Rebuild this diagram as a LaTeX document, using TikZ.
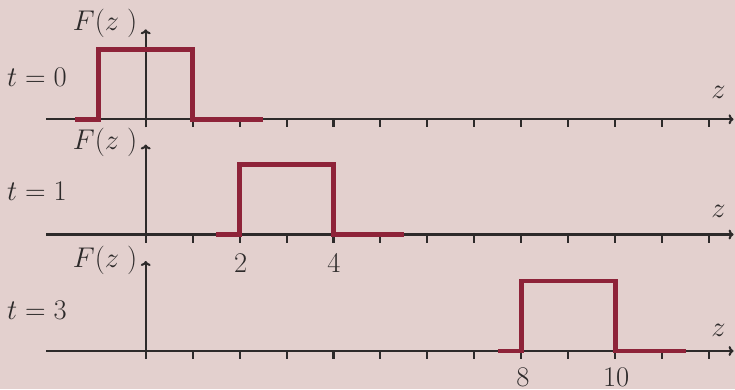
\documentclass[tikz,border=0pt]{standalone}
\usetikzlibrary{arrows.meta}
\definecolor{bgcol}{RGB}{227,208,206}
\definecolor{pulsecol}{RGB}{142,35,57}
\definecolor{axiscol}{RGB}{45,42,42}
\definecolor{txtcol}{RGB}{45,42,42}
\begin{document}
\begin{tikzpicture}[x=0.6063pt,y=-0.6063pt,
  font=\fontsize{16}{19}\selectfont,
  axisline/.style={draw=axiscol,line width=1.25pt},
  axisarrow/.style={axisline,-{To[length=3pt,width=6pt]}},
  pulseline/.style={draw=pulsecol,line width=2.85pt},
  lbl/.style={text=txtcol,inner sep=0pt}]
\fill[bgcol] (0,0) rectangle (735,389);
\useasboundingbox (0,0) rectangle (735,389);
\def\zo{145.7}
\def\un{46.95}
\foreach \r/\Y/\t/\tb/\Fb/\zb in {1/119.3/0/86/30.5/98.3, 2/234.5/1/200/149/217.3, 3/351/3/319.3/267.3/336}{
  % horizontal axis
  \coordinate (hs\r) at (46,\Y);
  \coordinate (he\r) at (733.5,\Y);
  \draw[axisarrow] (hs\r) -- (he\r);
  % ticks
  \foreach \k in {1,...,12}{
    \coordinate (tk\r-\k) at ({\zo+\un*\k},\Y);
    \draw[axisline] (tk\r-\k) -- ++(0,8);
  }
  % vertical axis
  \coordinate (vs\r) at (\zo,\Y+8);
  \coordinate (ve\r) at (\zo,\Y-90);
  \draw[axisarrow] (vs\r) -- (ve\r);
  % pulse
  \pgfmathsetmacro{\sh}{3*\t}
  \coordinate (p0\r) at ({\zo+\un*(-1.5+\sh)},\Y);
  \coordinate (p1\r) at ({\zo+\un*(-1+\sh)},\Y);
  \coordinate (p2\r) at ({\zo+\un*(-1+\sh)},\Y-70);
  \coordinate (p3\r) at ({\zo+\un*(1+\sh)},\Y-70);
  \coordinate (p4\r) at ({\zo+\un*(1+\sh)},\Y);
  \coordinate (p5\r) at ({\zo+\un*(2.5+\sh)},\Y);
  \draw[pulseline] (p0\r) -- (p1\r) -- (p2\r) -- (p3\r) -- (p4\r) -- (p5\r);
  % labels
  \node[lbl,anchor=base east] (tl\r) at (67,\tb) {$t=\t$};
  \node[lbl,anchor=base east] (fl\r) at (137.5,\Fb) {$F(z\ )$};
  \node[lbl,anchor=base] (zl\r) at (718.5,\zb) {$z$};
}
\node[lbl,anchor=base] (n2) at ({\zo+\un*2+1},272.5) {$2$};
\node[lbl,anchor=base] (n4) at ({\zo+\un*4+0.5},272.5) {$4$};
\node[lbl,anchor=base] (n8) at ({\zo+\un*8+1.5},386.8) {$8$};
\node[lbl,anchor=base] (n10) at ({\zo+\un*10+1},386.8) {$10$};
\end{tikzpicture}
\end{document}
